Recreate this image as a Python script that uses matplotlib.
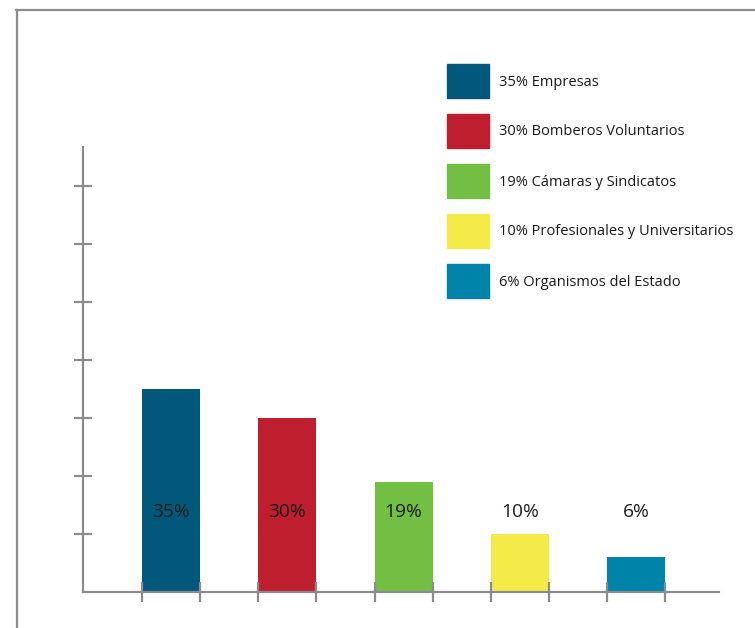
import matplotlib.pyplot as plt
from matplotlib.patches import Rectangle
from matplotlib.lines import Line2D

# data
categories = ['Empresas', 'Bomberos Voluntarios', 'Cámaras y Sindicatos',
              'Profesionales y Universitarios', 'Organismos del Estado']
values = [35, 30, 19, 10, 6]
colors = ['#02587A', '#BE1E2D', '#72BF44', '#F4EB48', '#0083A9']
yticks = [10, 20, 30, 40, 50, 60, 70]

plt.rcParams['font.family'] = ['Open Sans', 'DejaVu Sans']

W, H = 755, 628
fig = plt.figure(figsize=(W / 100, H / 100), dpi=100)

# axes placed in pixel terms: left spine at x=83, bottom at y=592
ax = fig.add_axes([83 / W, (H - 592) / H, (719 - 83) / W, (592 - 147) / H])
x = list(range(len(values)))
ax.bar(x, values, width=0.5, color=colors, zorder=1)
for xi, v in zip(x, values):
    ax.text(xi, 13.8, f'{v}%', ha='center', va='center', fontsize=13.8, color='#1a1a1a')

ax.set_xlim(-0.757, 4.712)
ax.set_ylim(0, 445 / 5.8)

gray = '#8c8c8e'
for s in ['top', 'right']:
    ax.spines[s].set_visible(False)
for s in ['left', 'bottom']:
    ax.spines[s].set_color(gray)
    ax.spines[s].set_linewidth(1.6)
    ax.spines[s].set_zorder(3)

edges = []
for xi in x:
    edges += [xi - 0.25, xi + 0.25]
ax.set_xticks(edges)
ax.set_yticks(yticks)
ax.tick_params(axis='both', direction='inout', color=gray, width=1.6,
               labelleft=False, labelbottom=False)
ax.tick_params(axis='x', length=14)
ax.tick_params(axis='y', length=13)

# outer frame lines (top and left)
fig.add_artist(Line2D([16 / W, 1], [1 - 10 / H, 1 - 10 / H], color=gray, lw=1.6))
fig.add_artist(Line2D([17 / W, 17 / W], [0, 1 - 10 / H], color=gray, lw=1.6))

# legend
for i, (c, v, name) in enumerate(zip(colors, values, categories)):
    top = 64 + 50 * i
    fig.add_artist(Rectangle((447 / W, 1 - (top + 34) / H), 42 / W, 34 / H,
                             transform=fig.transFigure, color=c))
    fig.text(499 / W, 1 - (top + 18) / H, f'{v}% {name}', ha='left', va='center',
             fontsize=10.5, color='#1a1a1a')

fig.savefig('out.png', dpi=100)
